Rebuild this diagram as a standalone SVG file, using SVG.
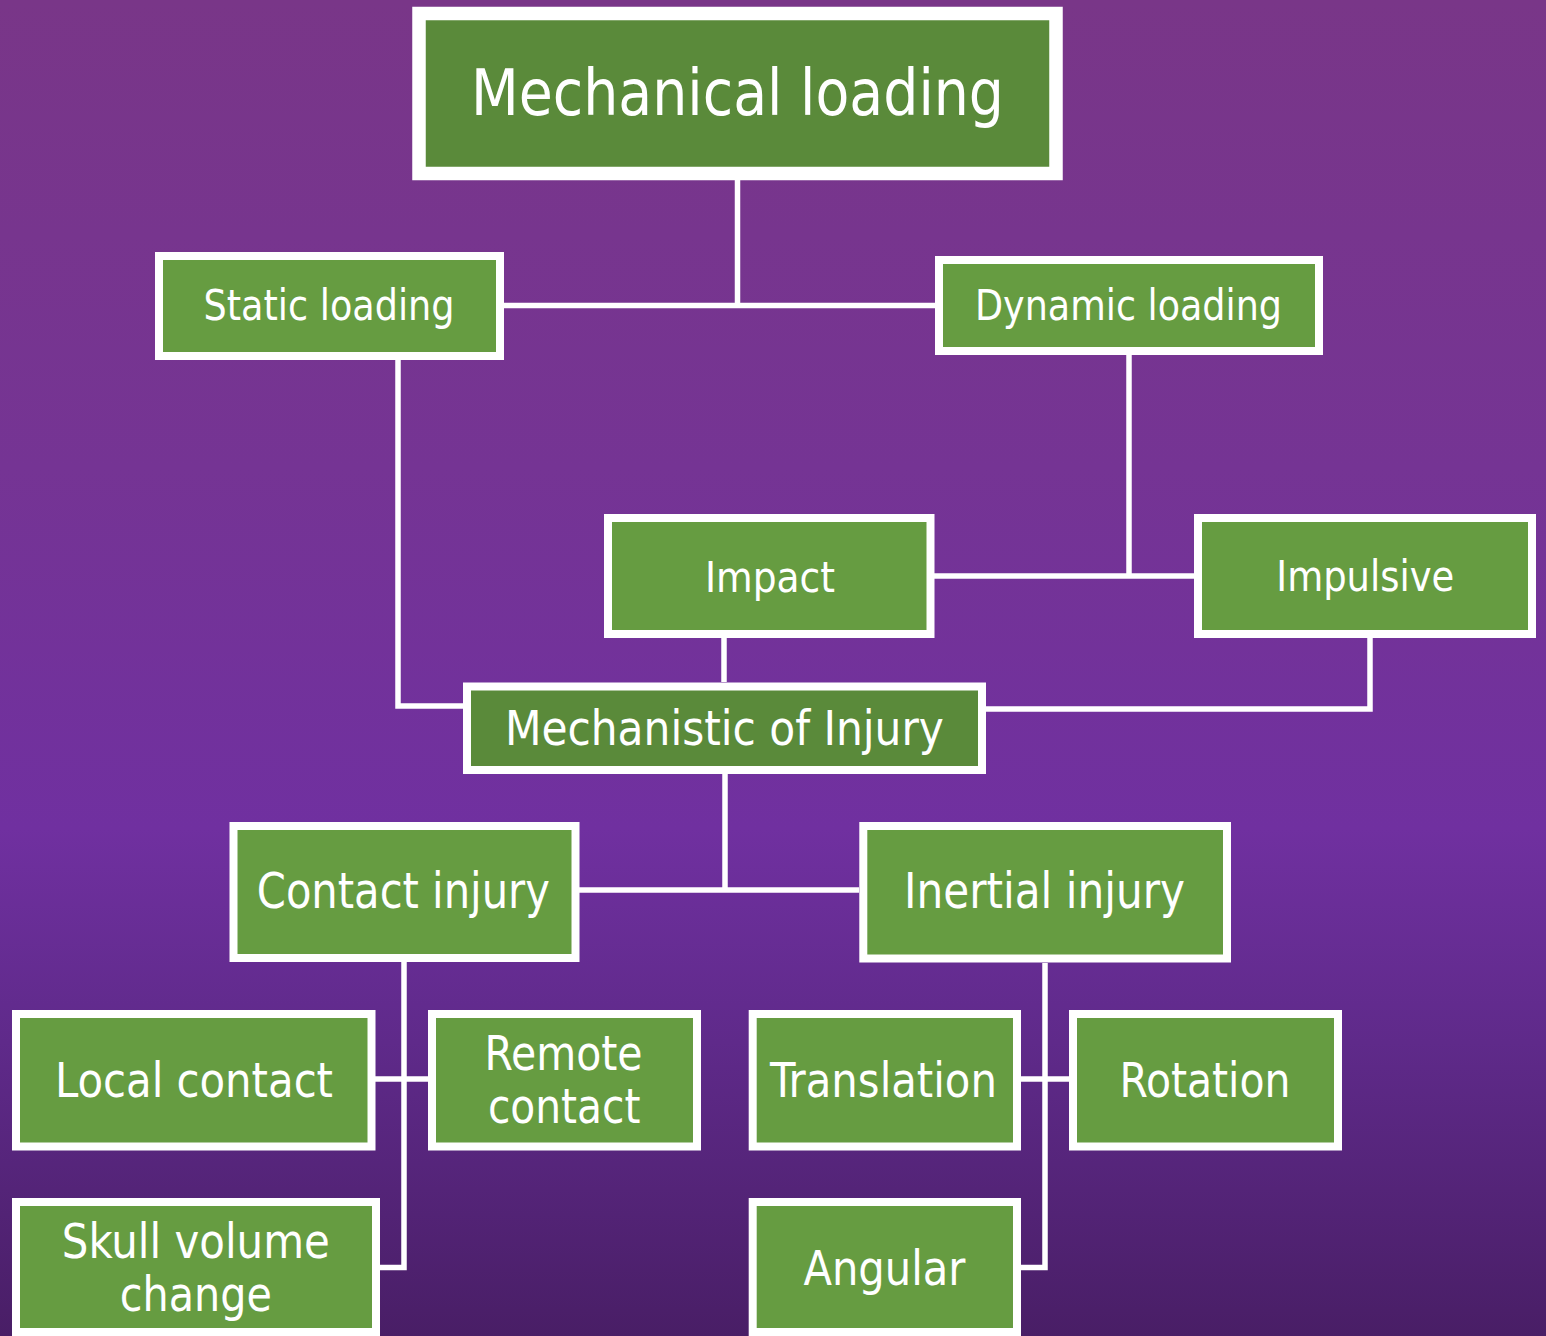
<svg xmlns="http://www.w3.org/2000/svg" width="1546" height="1336" viewBox="0 0 1546 1336">
<defs>
<linearGradient id="bg" x1="0" y1="0" x2="0" y2="1">
<stop offset="0" stop-color="#793688"/>
<stop offset="0.35" stop-color="#753494"/>
<stop offset="0.62" stop-color="#7030a0"/>
<stop offset="0.78" stop-color="#5f2a8a"/>
<stop offset="1" stop-color="#491e66"/>
</linearGradient>
</defs>
<style>
.box{stroke:#ffffff;stroke-width:8}
.dark{fill:#5a8a3a}
.light{fill:#669c41}
.lbl{font-family:"DejaVu Sans Condensed","DejaVu Sans","Liberation Sans",sans-serif;fill:#ffffff;text-anchor:middle}
.con{fill:none;stroke:#ffffff;stroke-width:5.5}
</style>
<rect x="0" y="0" width="1546" height="1336" fill="url(#bg)"/>
<g id="connectors">
<path class="con" d="M737.5 180 V305.5"/>
<path class="con" d="M504 305.5 H935"/>
<path class="con" d="M398 360 V706 H463"/>
<path class="con" d="M1129 355 V576"/>
<path class="con" d="M934 576 H1194"/>
<path class="con" d="M724 638 V682"/>
<path class="con" d="M1370 638 V709 H986"/>
<path class="con" d="M725 774 V890"/>
<path class="con" d="M579 890 H859"/>
<path class="con" d="M404 962 V1267.5 H380"/>
<path class="con" d="M375 1079 H428"/>
<path class="con" d="M1045 963 V1267.5 H1021"/>
<path class="con" d="M1021 1079 H1069"/>
</g>
<g id="mechanical-loading">
<rect class="box dark" x="419" y="13.5" width="637" height="160" style="stroke-width:13.5"/>
<text class="lbl" x="737.5" y="115" font-size="64" textLength="533" lengthAdjust="spacingAndGlyphs">Mechanical loading</text>
</g>
<g id="static-loading">
<rect class="box light" x="159" y="256" width="341" height="100"/>
<text class="lbl" x="329" y="320" font-size="43.5" textLength="251" lengthAdjust="spacingAndGlyphs">Static loading</text>
</g>
<g id="dynamic-loading">
<rect class="box light" x="939" y="260" width="380" height="91"/>
<text class="lbl" x="1128.5" y="320" font-size="43.5" textLength="307" lengthAdjust="spacingAndGlyphs">Dynamic loading</text>
</g>
<g id="impact">
<rect class="box light" x="608" y="518" width="322.5" height="116"/>
<text class="lbl" x="770" y="591.5" font-size="42.5" textLength="130" lengthAdjust="spacingAndGlyphs">Impact</text>
</g>
<g id="impulsive">
<rect class="box light" x="1198" y="518" width="334" height="116"/>
<text class="lbl" x="1365.3" y="590.7" font-size="42.5" textLength="178" lengthAdjust="spacingAndGlyphs">Impulsive</text>
</g>
<g id="mechanistic-of-injury">
<rect class="box dark" x="467" y="686.5" width="515" height="83.5"/>
<text class="lbl" x="724.4" y="745" font-size="48" textLength="439" lengthAdjust="spacingAndGlyphs">Mechanistic of Injury</text>
</g>
<g id="contact-injury">
<rect class="box light" x="233.5" y="826" width="342" height="132"/>
<text class="lbl" x="403.3" y="908.3" font-size="49" textLength="293" lengthAdjust="spacingAndGlyphs">Contact injury</text>
</g>
<g id="inertial-injury">
<rect class="box light" x="863.3" y="826" width="363.7" height="132.5"/>
<text class="lbl" x="1044.5" y="908.3" font-size="49" textLength="281" lengthAdjust="spacingAndGlyphs">Inertial injury</text>
</g>
<g id="local-contact">
<rect class="box light" x="16" y="1014" width="355.5" height="132.5"/>
<text class="lbl" x="194" y="1097.3" font-size="48" textLength="278" lengthAdjust="spacingAndGlyphs">Local contact</text>
</g>
<g id="remote-contact">
<rect class="box light" x="432" y="1014" width="265" height="132.5"/>
<text class="lbl" x="563.6" y="1070" font-size="48" textLength="158" lengthAdjust="spacingAndGlyphs">Remote</text>
<text class="lbl" x="564.2" y="1123.3" font-size="48" textLength="152.5" lengthAdjust="spacingAndGlyphs">contact</text>
</g>
<g id="skull-volume-change">
<rect class="box light" x="16" y="1202" width="360" height="130"/>
<text class="lbl" x="195.8" y="1258.3" font-size="48" textLength="268" lengthAdjust="spacingAndGlyphs">Skull volume</text>
<text class="lbl" x="195.8" y="1310.5" font-size="48" textLength="152" lengthAdjust="spacingAndGlyphs">change</text>
</g>
<g id="translation">
<rect class="box light" x="752.7" y="1014" width="264.3" height="132.5"/>
<text class="lbl" x="883.4" y="1097.3" font-size="48" textLength="227" lengthAdjust="spacingAndGlyphs">Translation</text>
</g>
<g id="rotation">
<rect class="box light" x="1073" y="1014" width="265" height="132.5"/>
<text class="lbl" x="1205" y="1097.3" font-size="48" textLength="171" lengthAdjust="spacingAndGlyphs">Rotation</text>
</g>
<g id="angular">
<rect class="box light" x="752.7" y="1202" width="264.3" height="130"/>
<text class="lbl" x="884.4" y="1285" font-size="48" textLength="162" lengthAdjust="spacingAndGlyphs">Angular</text>
</g>
</svg>
